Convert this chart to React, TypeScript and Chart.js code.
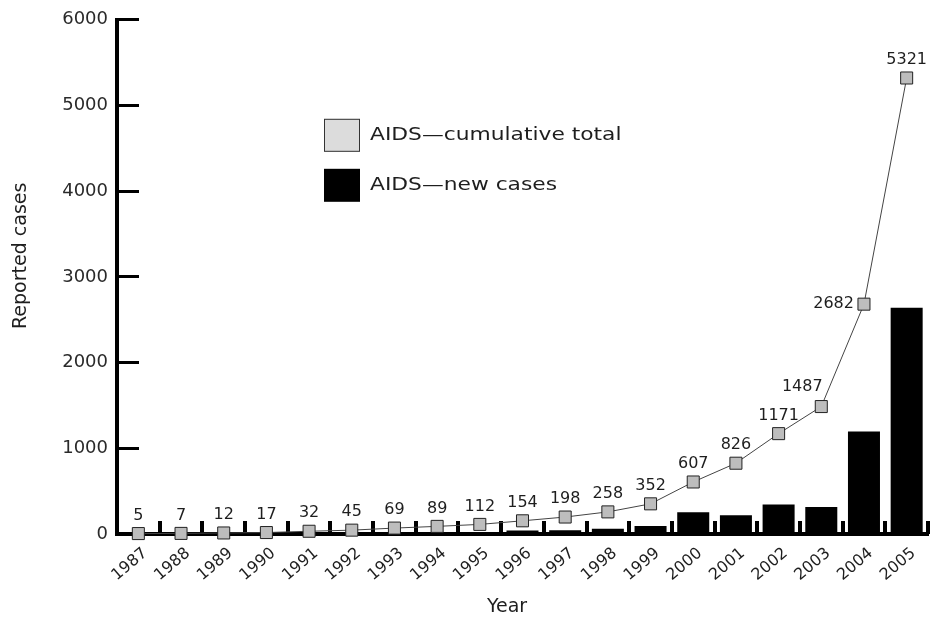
import React, { useEffect, useRef } from "react";
import { Chart, registerables } from "chart.js";

Chart.register(...registerables);

const years = ["1987", "1988", "1989", "1990", "1991", "1992", "1993", "1994", "1995", "1996", "1997", "1998", "1999", "2000", "2001", "2002", "2003", "2004", "2005"];
const cumulativeTotal = [5, 7, 12, 17, 32, 45, 69, 89, 112, 154, 198, 258, 352, 607, 826, 1171, 1487, 2682, 5321];
const newCases = [5, 2, 5, 5, 15, 13, 24, 20, 23, 42, 44, 60, 94, 255, 219, 345, 316, 1195, 2639];
const yMin = 0;
const yMax = 6000;
const yStep = 1000;
const cumulativeLabel = "AIDS\u2014cumulative total";
const newCasesLabel = "AIDS\u2014new cases";
const xTitle = "Year";
const yTitle = "Reported cases";

const FONT = '"DejaVu Sans", "Open Sans", sans-serif';

const decorPlugin = {
  id: "decor",
  beforeDatasetsDraw(chart: any) {
    const { ctx, chartArea, scales } = chart;
    const x = scales.x;
    const y = scales.y;
    ctx.save();
    ctx.fillStyle = "#000";
    const n = x.ticks.length;
    const step = n > 1 ? x.getPixelForTick(1) - x.getPixelForTick(0) : 0;
    for (let i = 0; i < n; i++) {
      const px = x.getPixelForTick(i) + step / 2;
      ctx.fillRect(Math.round(px - 2), chartArea.bottom - 13, 4, 13);
    }
    for (const t of y.ticks) {
      const py = y.getPixelForValue(t.value);
      ctx.fillRect(chartArea.left, Math.round(py - 1.5), 22, 3);
    }
    ctx.restore();
  },
  afterDatasetsDraw(chart: any) {
    const { ctx, chartArea } = chart;
    ctx.save();
    // value labels on cumulative markers
    const meta = chart.getDatasetMeta(1);
    const values = chart.data.datasets[1].data as number[];
    ctx.font = `16px ${FONT}`;
    ctx.fillStyle = "#1e1e1e";
    ctx.textBaseline = "middle";
    meta.data.forEach((pt: any, i: number) => {
      const txt = String(values[i]);
      if (i === 17) {
        ctx.textAlign = "right";
        ctx.fillText(txt, pt.x - 10, pt.y);
      } else if (i === 16) {
        ctx.textAlign = "center";
        ctx.fillText(txt, pt.x - 19, pt.y - 20);
      } else {
        ctx.textAlign = "center";
        ctx.fillText(txt, pt.x, pt.y - 18);
      }
    });

    // legend
    const lx = chartArea.left + 207;
    const ly = chartArea.top + 99;
    ctx.fillStyle = "#dcdcdc";
    ctx.fillRect(lx, ly, 36, 33);
    ctx.strokeStyle = "#333";
    ctx.lineWidth = 1;
    ctx.strokeRect(lx + 0.5, ly + 0.5, 35, 32);
    ctx.fillStyle = "#000";
    ctx.fillRect(lx, ly + 50, 36, 33);
    ctx.font = `18px ${FONT}`;
    ctx.fillStyle = "#1e1e1e";
    ctx.textAlign = "left";
    ctx.textBaseline = "middle";
    const drawStretched = (txt: string, tx: number, ty: number) => {
      ctx.save();
      ctx.translate(tx, ty);
      ctx.scale(1.21, 1);
      ctx.fillText(txt, 0, 0);
      ctx.restore();
    };
    drawStretched(chart.data.datasets[1].label, lx + 46, ly + 17);
    drawStretched(chart.data.datasets[0].label, lx + 46, ly + 67);

    // axis titles
    ctx.font = `19px ${FONT}`;
    ctx.fillStyle = "#1e1e1e";
    ctx.textAlign = "center";
    ctx.fillText(xTitle, chartArea.left + 390, 607);
    ctx.translate(21, chartArea.top + 236);
    ctx.rotate(-Math.PI / 2);
    ctx.fillText(yTitle, 0, 0);
    ctx.restore();
  },
};

export default function App() {
  const ref = useRef<HTMLCanvasElement>(null);
  useEffect(() => {
    if (!ref.current) return;
    const chart = new Chart(ref.current, {
      type: "bar",
      data: {
        labels: years,
        datasets: [
          {
            type: "bar",
            label: newCasesLabel,
            data: newCases,
            backgroundColor: "#000",
            borderWidth: 0,
            barPercentage: 0.75,
            categoryPercentage: 1.0,
            order: 2,
          },
          {
            type: "line",
            label: cumulativeLabel,
            data: cumulativeTotal,
            borderColor: "#444",
            borderWidth: 1,
            pointStyle: "rect",
            pointRadius: 8.5,
            pointBackgroundColor: "#bdbdbd",
            pointBorderColor: "#222",
            pointBorderWidth: 1,
            tension: 0,
            clip: false,
            order: 1,
          } as any,
        ],
      },
      options: {
        animation: false,
        responsive: false,
        devicePixelRatio: 1,
        layout: { autoPadding: false, padding: { left: 0, top: 17, right: 2, bottom: 0 } },
        plugins: {
          legend: { display: false },
          tooltip: { enabled: false },
        },
        scales: {
          x: {
            type: "category",
            offset: true,
            grid: { display: false, drawTicks: false, offset: true },
            border: { display: true, color: "#000", width: 4 },
            ticks: {
              color: "#1e1e1e",
              font: { family: FONT, size: 16 },
              minRotation: 40,
              maxRotation: 40,
              padding: 10,
              labelOffset: 7,
              autoSkip: false,
            },
            afterFit: (s: any) => {
              s.height = 86;
              s.paddingRight = 0;
              s.paddingLeft = 0;
            },
          },
          y: {
            min: yMin,
            max: yMax,
            grid: { display: false, drawTicks: false },
            border: { display: true, color: "#000", width: 4 },
            ticks: {
              stepSize: yStep,
              color: "#2a2a2a",
              font: { family: FONT, size: 18 },
              padding: 9,
              callback: (v: any) => String(v),
            },
            afterFit: (s: any) => {
              s.width = 117;
            },
          },
        },
      } as any,
      plugins: [decorPlugin],
    });
    return () => chart.destroy();
  }, []);
  return (
    <div style={{ position: "absolute", left: 0, top: 0, width: 930, height: 620, background: "#fff" }}>
      <canvas ref={ref} width={930} height={620} />
    </div>
  );
}
